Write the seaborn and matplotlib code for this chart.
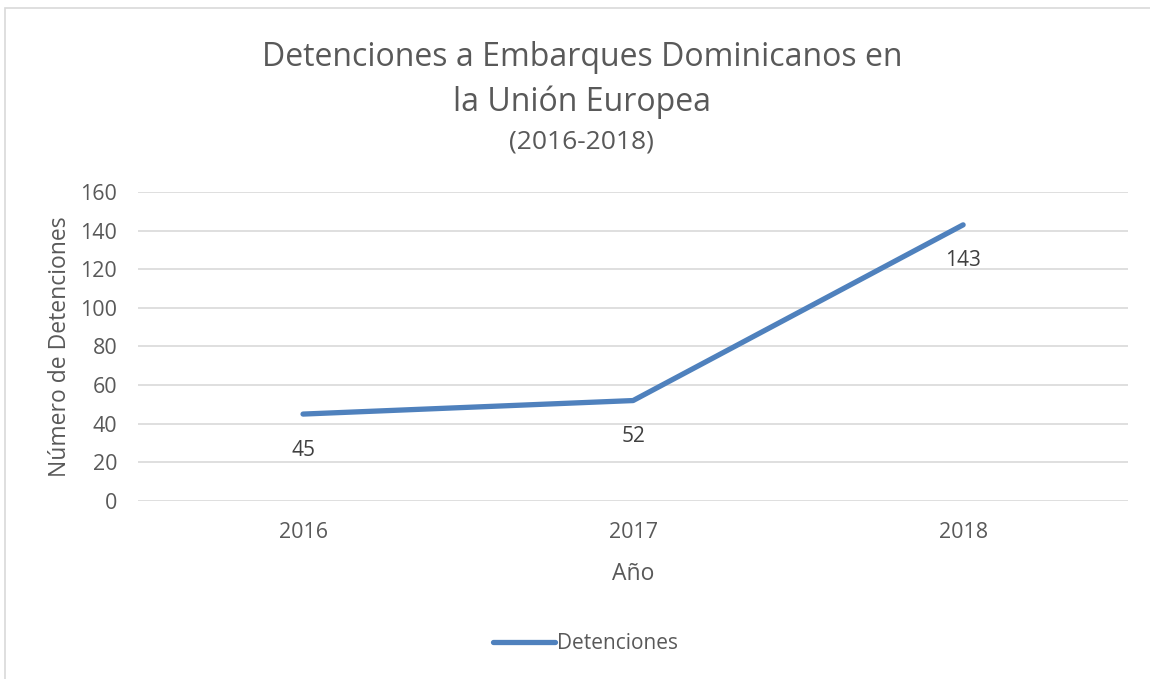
import matplotlib
matplotlib.use("Agg")
from matplotlib import pyplot as plt
from matplotlib.patches import Rectangle
import pandas as pd
import seaborn as sns

years = ['2016', '2017', '2018']
detenciones = [45, 52, 143]
yticks = [0, 20, 40, 60, 80, 100, 120, 140, 160]

sns.set_theme(style='white')
plt.rcParams['font.family'] = ['Open Sans', 'DejaVu Sans']

df = pd.DataFrame({'Año': years, 'Detenciones': detenciones})

fig = plt.figure(figsize=(11.5, 6.79), dpi=100)
ax = fig.add_axes([0.12, 0.2622, 0.861, 0.455])

sns.lineplot(data=df, x='Año', y='Detenciones', ax=ax, color='#4f81bd',
             linewidth=3.8, label='Detenciones', sort=False)
ax.lines[0].set_solid_capstyle('round')

ax.set_xlim(-0.5, 2.5)
ax.set_ylim(0, 160)
ax.set_yticks(yticks)
ax.grid(axis='y', color='#d9d9d9', linewidth=1.2)
ax.grid(axis='x', visible=False)
for s in ax.spines.values():
    s.set_visible(False)
ax.tick_params(axis='both', length=0, labelsize=15.5, labelcolor='#595959')
ax.tick_params(axis='y', pad=15)
ax.tick_params(axis='x', pad=15)
ax.set_xlabel('Año', fontsize=16.5, color='#595959', labelpad=14)
ax.set_ylabel('Número de Detenciones', fontsize=16.5, color='#595959', labelpad=6)

# etiquetas de datos debajo de cada punto
for i, v in enumerate(detenciones):
    ax.annotate(str(v), (i, v), xytext=(0, -36), textcoords='offset pixels',
                ha='center', va='center', fontsize=15, color='#404040')

fig.text(0.506, 0.915, 'Detenciones a Embarques Dominicanos en', ha='center',
         va='center', fontsize=23, color='#595959')
fig.text(0.506, 0.849, 'la Unión Europea', ha='center', va='center',
         fontsize=23, color='#595959')
fig.text(0.506, 0.791, '(2016-2018)', ha='center', va='center',
         fontsize=19, color='#595959')

leg = ax.legend(loc='center', bbox_to_anchor=(0.509, 0.052),
                bbox_transform=fig.transFigure, frameon=False, fontsize=15,
                handlelength=3.0, handletextpad=0.1)
for t in leg.get_texts():
    t.set_color('#595959')

fig.patches.append(Rectangle((5 / 1150, -0.1), 1.2, 1 - 8 / 679 + 0.1,
                             transform=fig.transFigure, fill=False,
                             edgecolor='#d9d9d9', linewidth=1.2))

fig.savefig('out.png', dpi=100)
